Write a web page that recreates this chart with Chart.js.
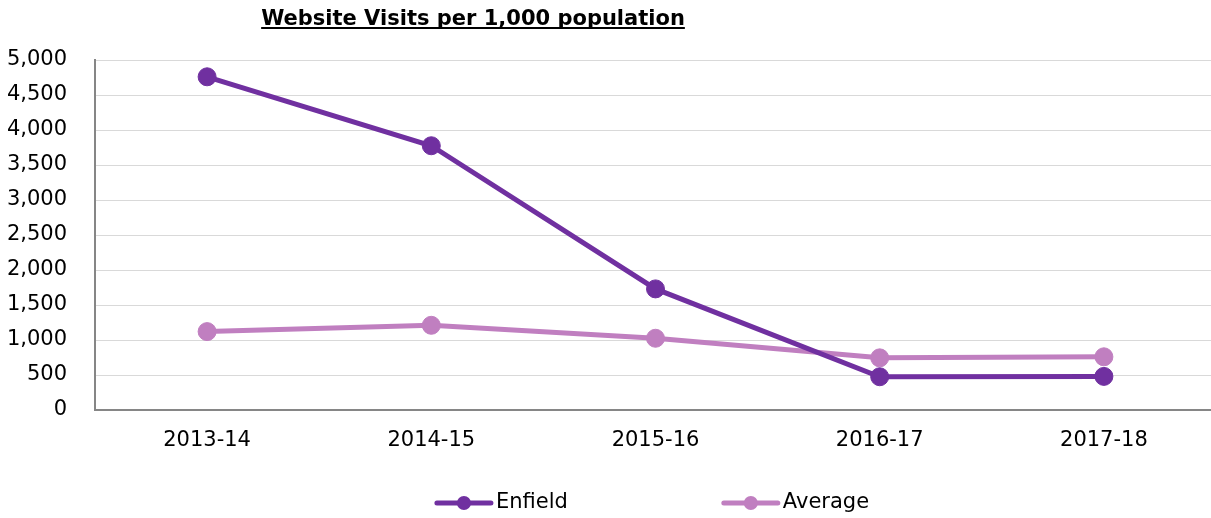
<!DOCTYPE html>
<html>
<head>
<meta charset="utf-8">
<script src="https://cdn.jsdelivr.net/npm/chart.js@4/dist/chart.umd.min.js"></script>
<style>
  html, body { margin: 0; padding: 0; background: #fff; overflow: hidden; }
  #wrap { width: 1226px; height: 518px; position: relative; }
</style>
</head>
<body>
<div id="wrap"><canvas id="chart"></canvas></div>
<script>
const TITLE = "Website Visits per 1,000 population";
const CATEGORIES = ["2013-14", "2014-15", "2015-16", "2016-17", "2017-18"];
const ENFIELD = [4760, 3775, 1730, 475, 480];
const AVERAGE = [1120, 1210, 1025, 745, 760];
const Y_MAX = 5000;
const Y_STEP = 500;

const FONT = "'DejaVu Sans', Verdana, sans-serif";
const ENFIELD_COLOR = "#7030a0";
const AVERAGE_COLOR = "#c07fc0";
const GRID_COLOR = "#d9d9d9";
const AXIS_COLOR = "#868686";

// title with underline, centred like the original (not on the plot centre)
const titlePlugin = {
  id: "underlinedTitle",
  afterDraw(chart) {
    const ctx = chart.ctx;
    ctx.save();
    ctx.font = `bold 21px ${FONT}`;
    ctx.fillStyle = "#000";
    ctx.textAlign = "center";
    ctx.textBaseline = "alphabetic";
    const cx = 473;
    const baseY = 25;
    ctx.fillText(TITLE, cx, baseY);
    const w = ctx.measureText(TITLE).width;
    ctx.fillRect(cx - w / 2, baseY + 2, w, 2);
    ctx.restore();
  },
};

// legend drawn as line + marker, like office charts
const lineLegendPlugin = {
  id: "lineLegend",
  afterDraw(chart) {
    const ctx = chart.ctx;
    const lineLen = 54;
    const textGap = 5;
    const itemGap = 156;
    const y = 503;
    const centreX = 653;
    ctx.save();
    ctx.font = `21px ${FONT}`;
    const items = chart.data.datasets.map((ds) => ({
      label: ds.label,
      color: ds.borderColor,
      width: lineLen + textGap + ctx.measureText(ds.label).width,
    }));
    const total = items.reduce((s, it) => s + it.width, 0) + itemGap * (items.length - 1);
    let x = centreX - total / 2;
    items.forEach((it) => {
      ctx.strokeStyle = it.color;
      ctx.lineWidth = 5;
      ctx.lineCap = "round";
      ctx.beginPath();
      ctx.moveTo(x, y);
      ctx.lineTo(x + lineLen, y);
      ctx.stroke();
      ctx.fillStyle = it.color;
      ctx.beginPath();
      ctx.arc(x + lineLen / 2, y, 7, 0, Math.PI * 2);
      ctx.fill();
      ctx.fillStyle = "#000";
      ctx.textAlign = "left";
      ctx.textBaseline = "middle";
      ctx.fillText(it.label, x + lineLen + textGap, y);
      x += it.width + itemGap;
    });
    ctx.restore();
  },
};

function seriesStyle(color) {
  return {
    borderColor: color,
    backgroundColor: color,
    borderWidth: 5,
    pointRadius: 9,
    pointBorderWidth: 1,
    pointBorderColor: color,
    pointBackgroundColor: color,
    tension: 0,
    fill: false,
  };
}

new Chart(document.getElementById("chart"), {
  type: "line",
  data: {
    labels: CATEGORIES,
    datasets: [
      { label: "Enfield", data: ENFIELD, ...seriesStyle(ENFIELD_COLOR) },
      { label: "Average", data: AVERAGE, ...seriesStyle(AVERAGE_COLOR) },
    ],
  },
  options: {
    responsive: true,
    maintainAspectRatio: false,
    animation: false,
    layout: { padding: { top: 60, right: 0, left: 0, bottom: 0 } },
    plugins: {
      legend: { display: false },
      title: { display: false },
      tooltip: { enabled: false },
    },
    scales: {
      x: {
        offset: true,
        grid: { display: false, drawTicks: false, offset: true },
        border: { display: true, color: AXIS_COLOR, width: 2 },
        ticks: { color: "#000", padding: 18, font: { family: FONT, size: 21 } },
        afterFit: (scale) => { scale.height = 108; },
      },
      y: {
        min: 0,
        max: Y_MAX,
        grid: { color: GRID_COLOR, lineWidth: 1, drawTicks: false },
        border: { display: true, color: AXIS_COLOR, width: 2 },
        ticks: {
          stepSize: Y_STEP,
          color: "#000",
          padding: 28,
          font: { family: FONT, size: 21 },
          callback: (v) => v.toLocaleString("en-GB"),
        },
        afterFit: (scale) => { scale.width = 95; },
      },
    },
  },
  plugins: [titlePlugin, lineLegendPlugin],
});
</script>
</body>
</html>
